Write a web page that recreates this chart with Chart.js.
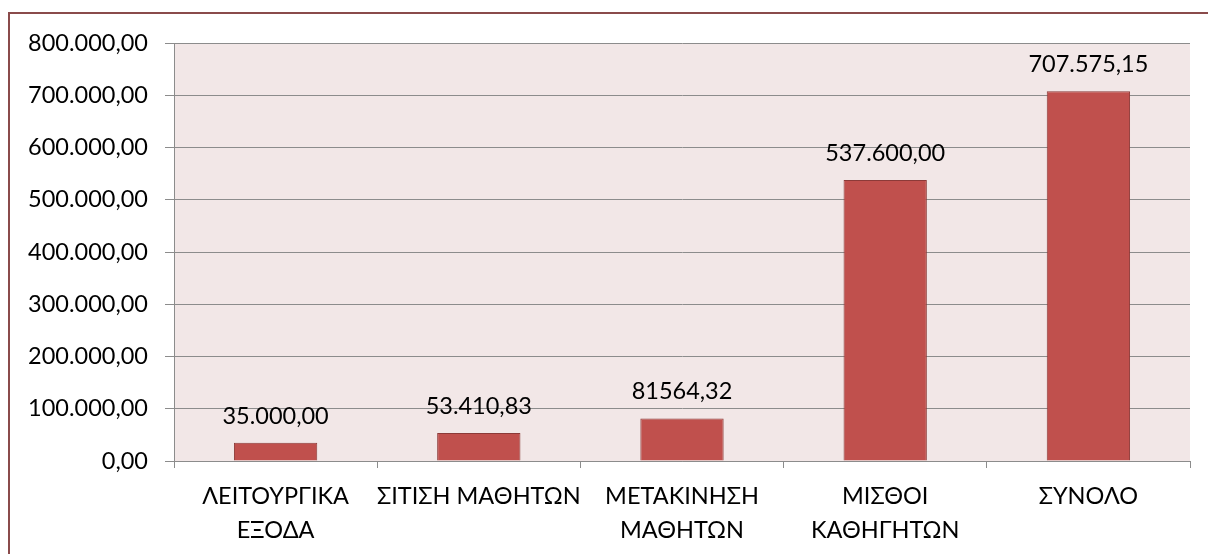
<!DOCTYPE html>
<html>
<head>
<meta charset="utf-8">
<script src="https://cdn.jsdelivr.net/npm/chart.js@4.4.1/dist/chart.umd.min.js"></script>
<style>
    body { margin: 0; background: #ffffff; overflow: hidden; width: 1208px; height: 554px; position: relative; }
    #frame { position: absolute; left: 8px; top: 12px; width: 1400px; height: 800px; border: 2px solid #8a4b4b; box-sizing: border-box; }
    #chart { position: absolute; left: 0; top: 0; }
</style>
</head>
<body>
<div id="frame"></div>
<canvas id="chart" width="1208" height="554"></canvas>
<script>
// Chart data
const categories = [
    ['ΛΕΙΤΟΥΡΓΙΚΑ', 'ΕΞΟΔΑ'],
    'ΣΙΤΙΣΗ ΜΑΘΗΤΩΝ',
    ['ΜΕΤΑΚΙΝΗΣΗ', 'ΜΑΘΗΤΩΝ'],
    ['ΜΙΣΘΟΙ', 'ΚΑΘΗΓΗΤΩΝ'],
    'ΣΥΝΟΛΟ'
];
const values = [35000, 53410.83, 81564.32, 537600, 707575.15];
const valueLabels = ['35.000,00', '53.410,83', '81564,32', '537.600,00', '707.575,15'];
const yTicks = [0, 100000, 200000, 300000, 400000, 500000, 600000, 700000, 800000];

const FONT = 'Lato';
const FONT_SIZE = 23.5;

// Format numbers like 800.000,00
function formatNumber(v) {
    const parts = v.toFixed(2).split('.');
    return parts[0].replace(/\B(?=(\d{3})+(?!\d))/g, '.') + ',' + parts[1];
}

// Pink plot background
const plotBackground = {
    id: 'plotBackground',
    beforeDraw(chart) {
        const { ctx, chartArea } = chart;
        ctx.save();
        ctx.fillStyle = '#f2e7e7';
        ctx.fillRect(chartArea.left, chartArea.top, chartArea.right - chartArea.left, chartArea.bottom - chartArea.top);
        ctx.restore();
    }
};

// Value labels above the bars
const barLabels = {
    id: 'barLabels',
    afterDatasetsDraw(chart) {
        const { ctx } = chart;
        const meta = chart.getDatasetMeta(0);
        ctx.save();
        ctx.font = `${FONT_SIZE}px ${FONT}`;
        ctx.fillStyle = '#000000';
        ctx.textAlign = 'center';
        ctx.textBaseline = 'alphabetic';
        meta.data.forEach((bar, i) => {
            ctx.fillText(valueLabels[i], bar.x, bar.y - 19);
        });
        ctx.restore();
    }
};

const ctx = document.getElementById('chart').getContext('2d');
new Chart(ctx, {
    type: 'bar',
    data: {
        labels: categories,
        datasets: [{
            data: values,
            backgroundColor: '#c0504d',
            borderColor: '#8c3a38',
            borderWidth: 1,
            categoryPercentage: 1.0,
            barPercentage: 0.41
        }]
    },
    options: {
        responsive: false,
        animation: false,
        layout: {
            padding: { top: 43, right: 18, bottom: 0, left: 10 }
        },
        plugins: {
            legend: { display: false },
            tooltip: { enabled: false }
        },
        scales: {
            y: {
                min: 0,
                max: 800000,
                afterBuildTicks(scale) {
                    scale.ticks = yTicks.map(v => ({ value: v }));
                },
                afterFit(scale) {
                    scale.width = 164;
                },
                ticks: {
                    callback: v => formatNumber(v),
                    color: '#000000',
                    font: { family: FONT, size: FONT_SIZE },
                    padding: 17
                },
                grid: {
                    color: '#8c8c8c',
                    lineWidth: 1,
                    tickLength: 9
                },
                border: { color: '#8c8c8c', width: 1 }
            },
            x: {
                afterFit(scale) {
                    scale.height = 93;
                },
                ticks: {
                    color: '#000000',
                    font: { family: FONT, size: FONT_SIZE, lineHeight: 1.42 },
                    padding: 12,
                    maxRotation: 0,
                    autoSkip: false
                },
                grid: {
                    drawOnChartArea: false,
                    color: '#8c8c8c',
                    tickLength: 7,
                    offset: true
                },
                border: { color: '#8c8c8c', width: 1 }
            }
        }
    },
    plugins: [plotBackground, barLabels]
});
</script>
</body>
</html>
